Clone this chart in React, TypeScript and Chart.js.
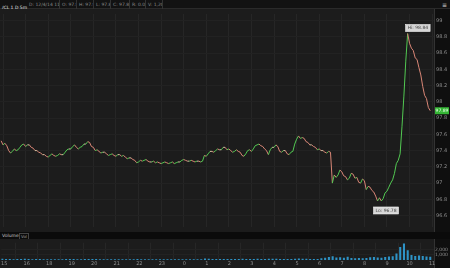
import React, { useEffect, useRef } from "react";
import { Chart, registerables } from "chart.js";
Chart.register(...registerables);

const hourLabels = ["15", "16", "18", "19", "20", "21", "22", "23", "0", "1", "2", "3", "4", "5", "6", "7", "8", "9", "10", "11"];
const priceTicks = [99, 98.8, 98.6, 98.4, 98.2, 98, 97.8, 97.6, 97.4, 97.2, 97, 96.8, 96.6];
const volumeTicks = [1000, 2000];
const firstBar = -1;
const priceStep = 1;
const volumeStep = 2;
const barsPerHour = 12;

const prices = [
  97.52, 97.47, 97.49, 97.46, 97.4, 97.37, 97.39, 97.42, 97.4, 97.41,
  97.44, 97.47, 97.48, 97.45, 97.47, 97.47, 97.44, 97.43, 97.4, 97.4,
  97.38, 97.37, 97.35, 97.35, 97.33, 97.32, 97.34, 97.36, 97.34, 97.33,
  97.34, 97.36, 97.35, 97.35, 97.38, 97.41, 97.42, 97.42, 97.45, 97.47,
  97.44, 97.42, 97.44, 97.45, 97.48, 97.48, 97.51, 97.5, 97.45, 97.44,
  97.4, 97.41, 97.39, 97.37, 97.38, 97.38, 97.36, 97.34, 97.35, 97.36,
  97.34, 97.33, 97.35, 97.35, 97.33, 97.34, 97.32, 97.3, 97.31, 97.31,
  97.29, 97.28, 97.25, 97.26, 97.28, 97.27, 97.28, 97.29, 97.27, 97.26,
  97.26, 97.27, 97.25, 97.26, 97.25, 97.24, 97.25, 97.26, 97.25, 97.24,
  97.25, 97.26, 97.24, 97.25, 97.26, 97.26, 97.28, 97.29, 97.28, 97.27,
  97.27, 97.28, 97.27, 97.26, 97.27, 97.27, 97.26, 97.27, 97.34, 97.33,
  97.36, 97.39, 97.39, 97.38, 97.4, 97.42, 97.41, 97.41, 97.44, 97.44,
  97.41, 97.42, 97.4, 97.38, 97.39, 97.41, 97.39, 97.38, 97.34, 97.33,
  97.36, 97.4, 97.41, 97.39, 97.42, 97.46, 97.47, 97.48, 97.46, 97.45,
  97.42, 97.4, 97.35, 97.41, 97.44, 97.44, 97.47, 97.45, 97.39, 97.38,
  97.4, 97.4, 97.36, 97.35, 97.38, 97.39, 97.48, 97.54, 97.58, 97.55,
  97.56, 97.55, 97.51, 97.5, 97.47, 97.47, 97.45, 97.44, 97.41, 97.42,
  97.4, 97.4, 97.38, 97.37, 97.39, 97.38, 97.0, 97.1, 97.07, 97.1,
  97.16, 97.14, 97.09, 97.08, 97.04, 97.06, 97.12, 97.11, 97.06, 97.07,
  97.01, 97.0, 97.05, 97.03, 96.92, 96.96, 96.95, 96.91, 96.89, 96.84,
  96.78, 96.82, 96.78, 96.81, 96.88, 96.9, 96.95, 97.0, 97.04, 97.12,
  97.24, 97.28, 97.36, 97.7, 98.07, 98.5, 98.84, 98.72, 98.66, 98.63,
  98.54, 98.52, 98.42, 98.33, 98.19, 98.08, 98.04, 97.93, 97.89,
];

const volumes = [
  180, 120, 150, 90, 110, 140, 160, 120, 100, 130,
  110, 90, 100, 80, 70, 90, 100, 120, 140, 130,
  100, 90, 120, 150, 130, 110, 90, 80, 80, 90,
  70, 80, 90, 70, 80, 90, 120, 100, 80, 70,
  60, 60, 70, 60, 70, 60, 70, 80, 90, 80,
  70, 70, 80, 90, 220, 180, 150, 140, 130, 150,
  140, 120, 110, 120, 160, 140, 150, 130, 170, 150,
  140, 180, 170, 160, 150, 140, 150, 140, 170, 220,
  190, 160, 150, 140, 150, 250, 350, 500, 650, 400,
  450, 350, 550, 300, 250, 300, 250, 300, 450, 500,
  400, 350, 500, 600, 650, 1200, 2400, 3100, 1800, 900,
  700, 800, 700, 600, 550,
];

const X_MIN = -1.6;
const X_MAX = 229;
const AXIS_W = 16;
const FONT = "DejaVu Sans";
const UP = "#52c952";
const DOWN = "#d98676";
const FLAT = "#d4c4a4";

const hourTicks = (scale: any) => {
  scale.ticks = hourLabels.map((_, i) => ({ value: i * barsPerHour }));
};

const bgPlugin = {
  id: "bgPlugin",
  beforeDraw(chart: any) {
    const { ctx, chartArea, width, height } = chart;
    ctx.save();
    ctx.fillStyle = "#1c1c1c";
    ctx.fillRect(0, 0, chartArea.right, height);
    ctx.fillStyle = "#0f0f0f";
    ctx.fillRect(chartArea.right, 0, width - chartArea.right, height);
    ctx.strokeStyle = "#333";
    ctx.lineWidth = 1;
    ctx.beginPath();
    ctx.moveTo(chartArea.right + 0.5, 0);
    ctx.lineTo(chartArea.right + 0.5, height);
    ctx.stroke();
    ctx.restore();
  },
};

export default function App() {
  const priceRef = useRef<HTMLCanvasElement>(null);
  const volRef = useRef<HTMLCanvasElement>(null);

  useEffect(() => {
    const pts = prices.map((p, i) => ({ x: firstBar + i * priceStep, y: p }));
    const vpts = volumes.map((v, i) => ({ x: firstBar + i * volumeStep, y: v }));

    const markPlugin = {
      id: "markPlugin",
      afterDatasetsDraw(chart: any) {
        const { ctx, chartArea } = chart;
        const xs = chart.scales.x;
        const ys = chart.scales.y;
        let hi = 0;
        let lo = 0;
        prices.forEach((p, i) => {
          if (p > prices[hi]) hi = i;
          if (p < prices[lo]) lo = i;
        });
        ctx.save();
        ctx.font = `4.5px "${FONT}"`;
        ctx.textBaseline = "middle";
        const box = (text: string, left: number, top: number) => {
          const w = ctx.measureText(text).width + 4;
          ctx.fillStyle = "#d6d6d6";
          ctx.fillRect(left, top, w, 7);
          ctx.strokeStyle = "#f4f4f4";
          ctx.lineWidth = 0.6;
          ctx.strokeRect(left, top, w, 7);
          ctx.fillStyle = "#444";
          ctx.textAlign = "left";
          ctx.fillText(text, left + 2, top + 3.7);
        };
        const hx = xs.getPixelForValue(pts[hi].x);
        const hy = ys.getPixelForValue(prices[hi]);
        box(`Hi: ${prices[hi].toFixed(2)}`, hx - 2, hy - 9);
        const lx = xs.getPixelForValue(pts[lo].x);
        const ly = ys.getPixelForValue(prices[lo]);
        box(`Lo: ${prices[lo].toFixed(2)}`, lx - 4, ly + 6);
        const last = prices[prices.length - 1];
        const cy = ys.getPixelForValue(last);
        ctx.fillStyle = "#35b635";
        ctx.fillRect(chartArea.right + 1, cy - 3.5, 14, 7);
        ctx.fillStyle = "#eaffea";
        ctx.textAlign = "center";
        ctx.fillText(last.toFixed(2), chartArea.right + 8, cy + 0.3);
        ctx.restore();
      },
    };

    const priceChart = new Chart(priceRef.current!, {
      type: "line",
      data: {
        datasets: [
          {
            data: pts,
            borderWidth: 1,
            pointRadius: 0,
            tension: 0,
            borderColor: FLAT,
            segment: {
              borderColor: (c: any) => {
                const d = c.p1.parsed.y - c.p0.parsed.y;
                return d > 0.001 ? UP : d < -0.001 ? DOWN : FLAT;
              },
            },
          },
        ],
      },
      options: {
        animation: false,
        responsive: false,
        maintainAspectRatio: false,
        layout: { padding: 0 },
        plugins: { legend: { display: false }, tooltip: { enabled: false } },
        scales: {
          x: {
            type: "linear",
            min: X_MIN,
            max: X_MAX,
            afterBuildTicks: hourTicks,
            afterFit: (s: any) => {
              s.height = 0;
            },
            ticks: { display: false },
            grid: { color: "#262626", drawTicks: false, lineWidth: 1 },
            border: { display: false },
          },
          y: {
            position: "right",
            min: 96.46,
            max: 99.08,
            afterBuildTicks: (s: any) => {
              s.ticks = priceTicks.map((v) => ({ value: v }));
            },
            afterFit: (s: any) => {
              s.width = AXIS_W;
            },
            ticks: {
              color: "#8f8f8f",
              font: { size: 5, family: FONT },
              padding: 2,
              callback: (v: any) => String(Number(Number(v).toFixed(1))),
            },
            grid: { color: "#222222", drawTicks: false },
            border: { display: false },
          },
        },
      },
      plugins: [bgPlugin, markPlugin],
    });

    const volChart = new Chart(volRef.current!, {
      type: "bar",
      data: {
        datasets: [
          {
            data: vpts,
            backgroundColor: "#2e93c6",
            barThickness: 1.4,
          },
        ],
      },
      options: {
        animation: false,
        responsive: false,
        maintainAspectRatio: false,
        layout: { padding: { top: 2 } },
        plugins: { legend: { display: false }, tooltip: { enabled: false } },
        scales: {
          x: {
            type: "linear",
            min: X_MIN,
            max: X_MAX,
            offset: false,
            afterBuildTicks: hourTicks,
            afterFit: (s: any) => {
              s.height = 8;
            },
            ticks: {
              color: "#8f8f8f",
              font: { size: 5, family: FONT },
              padding: 1,
              maxRotation: 0,
              autoSkip: false,
              callback: (v: any) => hourLabels[Math.round(Number(v) / barsPerHour)] ?? "",
            },
            grid: { color: "#262626", drawTicks: false },
            border: { display: false },
          },
          y: {
            position: "right",
            min: 0,
            max: 3300,
            afterBuildTicks: (s: any) => {
              s.ticks = volumeTicks.map((v) => ({ value: v }));
            },
            afterFit: (s: any) => {
              s.width = AXIS_W;
            },
            ticks: {
              color: "#8f8f8f",
              font: { size: 4.5, family: FONT },
              padding: 1,
              callback: (v: any) => Number(v).toLocaleString("en-US"),
            },
            grid: { color: "#222222", drawTicks: false },
            border: { display: false },
          },
        },
      },
      plugins: [bgPlugin],
    });

    return () => {
      priceChart.destroy();
      volChart.destroy();
    };
  }, []);

  const seg = (t: string, w: number) => (
    <span
      style={{
        display: "inline-block",
        width: w,
        color: "#8a8a8a",
        borderRight: "1px solid #333",
        paddingLeft: 2,
        boxSizing: "border-box",
        whiteSpace: "nowrap",
        overflow: "hidden",
      }}
    >
      {t}
    </span>
  );

  return (
    <div
      style={{
        position: "fixed",
        left: 0,
        top: 0,
        width: 450,
        height: 268,
        background: "#1c1c1c",
        overflow: "hidden",
        fontFamily: FONT,
      }}
    >
      <div
        style={{
          position: "absolute",
          left: 0,
          top: 0,
          width: 450,
          height: 9,
          background: "#121212",
          fontSize: 4.5,
          lineHeight: "9px",
          whiteSpace: "nowrap",
          borderBottom: "1px solid #2a2a2a",
          boxSizing: "border-box",
        }}
      >
        <span style={{ display: "inline-block", width: 27, color: "#e8e8e8", paddingLeft: 2, boxSizing: "border-box" }}>/CL 1 D 5m</span>
        {seg("D: 12/4/14 11:05 AM", 33)}
        {seg("O: 97.91", 17)}
        {seg("H: 97.93", 17)}
        {seg("L: 97.88", 17)}
        {seg("C: 97.89", 19)}
        {seg("R: 0.05", 16)}
        {seg("V: 1,204", 17)}
        {seg("", 267)}
        <span style={{ position: "absolute", right: 3, top: 0, color: "#ddd", fontSize: 6 }}>≡</span>
      </div>
      <canvas
        ref={priceRef}
        width={450}
        height={223}
        style={{ position: "absolute", left: 0, top: 9, width: 450, height: 223 }}
      />
      <div
        style={{
          position: "absolute",
          left: 0,
          top: 232,
          width: 450,
          height: 7,
          background: "#0b0b0b",
          fontSize: 4.5,
          lineHeight: "7px",
          color: "#c8c8c8",
          whiteSpace: "nowrap",
        }}
      >
        <span style={{ position: "absolute", left: 2, top: 0 }}>Volume</span>
        <span
          style={{
            position: "absolute",
            left: 19,
            top: 1,
            height: 5,
            lineHeight: "5px",
            padding: "0 1px",
            border: "1px solid #444",
            color: "#999",
            fontSize: 4,
          }}
        >
          Vol
        </span>
      </div>
      <canvas
        ref={volRef}
        width={450}
        height={29}
        style={{ position: "absolute", left: 0, top: 239, width: 450, height: 29 }}
      />
    </div>
  );
}
